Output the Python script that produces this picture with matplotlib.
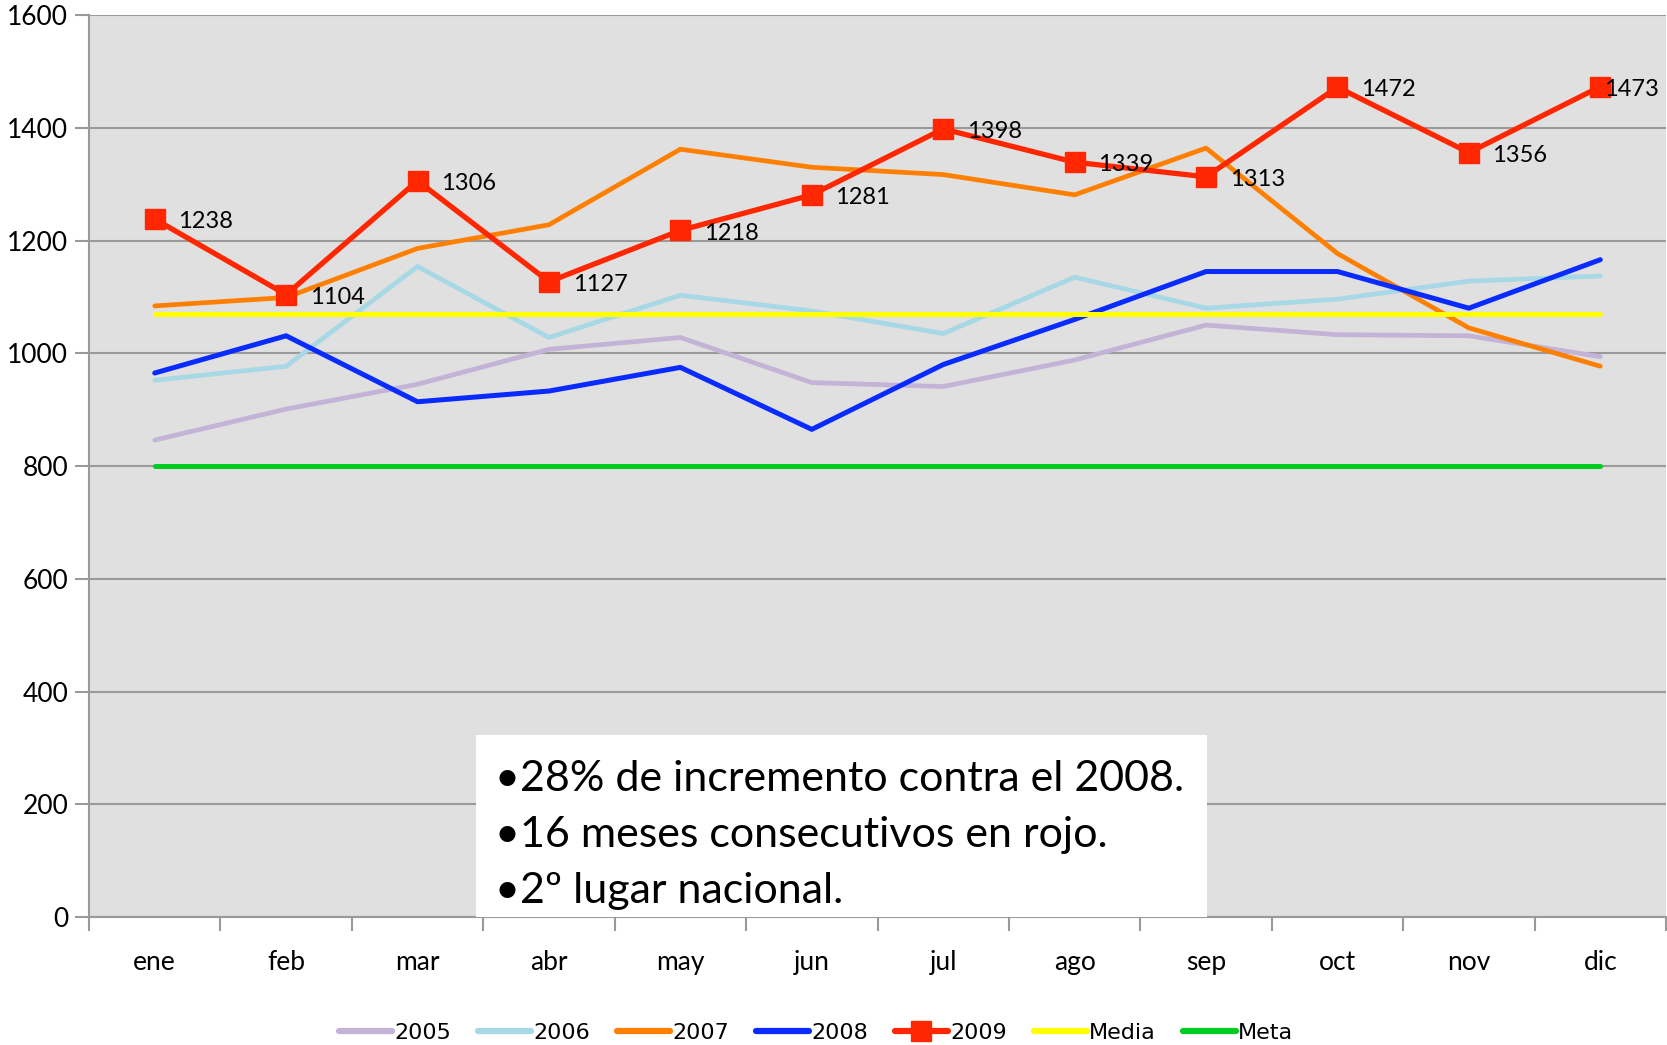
import matplotlib
matplotlib.use("Agg")
import matplotlib.pyplot as plt
from matplotlib.patches import Rectangle

months = ["ene", "feb", "mar", "abr", "may", "jun", "jul", "ago", "sep", "oct", "nov", "dic"]
s2005 = [846, 901, 945, 1007, 1028, 948, 941, 988, 1050, 1033, 1031, 994]
s2006 = [952, 977, 1154, 1028, 1103, 1075, 1035, 1135, 1080, 1096, 1128, 1137]
s2007 = [1084, 1099, 1186, 1228, 1362, 1330, 1317, 1281, 1364, 1177, 1045, 977]
s2008 = [965, 1031, 914, 933, 975, 865, 980, 1060, 1145, 1145, 1080, 1166]
s2009 = [1238, 1104, 1306, 1127, 1218, 1281, 1398, 1339, 1313, 1472, 1356, 1473]
media = [1069] * 12
meta = [800] * 12
yticks = [0, 200, 400, 600, 800, 1000, 1200, 1400, 1600]
notes = ["•28% de incremento contra el 2008.",
         "•16 meses consecutivos en rojo.",
         "•2º lugar nacional."]

FONT = ["Lato", "DejaVu Sans"]
plt.rcParams['font.family'] = FONT

fig = plt.figure(figsize=(16.67, 10.45), dpi=100)
ax = fig.add_axes([0.0534, 0.1225, 0.9460, 0.8631])
ax.set_facecolor("#E0E0E0")

x = list(range(12))
series = [
    ("2005", s2005, "#C3B3D6", 3.4, None),
    ("2006", s2006, "#A7D8E6", 3.4, None),
    ("2007", s2007, "#FF7F00", 3.4, None),
    ("2008", s2008, "#0A2BFF", 3.6, None),
    ("2009", s2009, "#FF2600", 3.8, "s"),
    ("Media", media, "#FFFF00", 3.6, None),
    ("Meta", meta, "#00CC22", 3.6, None),
]
handles = []
for name, vals, col, lw, mk in series:
    if mk:
        h, = ax.plot(x, vals, color=col, lw=lw, marker=mk, markersize=14,
                     solid_capstyle="round", zorder=4, label=name)
    else:
        h, = ax.plot(x, vals, color=col, lw=lw, solid_capstyle="round",
                     zorder=3, label=name)
    handles.append(h)

for xi, v in zip(x, s2009):
    off = 17 if xi < 11 else 3
    ax.annotate(str(v), (xi, v), xytext=(off, -2), textcoords="offset points",
                ha="left", va="center", fontsize=17, color="black", zorder=5)

ax.set_xlim(-0.5, 11.5)
ax.set_ylim(0, 1600)
ax.set_yticks(yticks)
ax.set_yticklabels([str(t) for t in yticks], fontsize=19)
ax.yaxis.grid(True, color="#9A9A9A", lw=1.5)
ax.set_axisbelow(True)
ax.tick_params(axis="y", length=10, width=1.5, color="#9A9A9A", pad=5)

ax.set_xticks([i - 0.5 for i in range(13)])
ax.set_xticklabels([])
ax.set_xticks(x, minor=True)
ax.set_xticklabels(months, minor=True, fontsize=19)
ax.tick_params(axis="x", which="major", length=10, width=1.5, color="#9A9A9A", direction="out")
ax.tick_params(axis="x", which="minor", length=0, pad=24)

for sp in ["top", "right"]:
    ax.spines[sp].set_visible(False)
for sp in ["left", "bottom"]:
    ax.spines[sp].set_color("#9A9A9A")
    ax.spines[sp].set_linewidth(1.5)

# text box
W, H = 1667, 1045
rect = Rectangle((476 / W, 1 - 917 / H), (1207 - 476) / W, (917 - 735) / H,
                 transform=fig.transFigure, facecolor="white", edgecolor="none", zorder=10)
fig.patches.append(rect)
for i, line in enumerate(notes):
    fig.text(495 / W, 1 - (779 + i * 56) / H, line, fontsize=31, va="center",
             ha="left", zorder=11)

leg = fig.legend(handles=handles, loc="center", bbox_to_anchor=(0.4895, 1 - 1033 / H),
                 ncol=7, frameon=False, handlelength=2.4,
                 handletextpad=0.1, columnspacing=1.2,
                 prop={"family": ["Liberation Sans Narrow", "DejaVu Sans"], "size": 16})
for lh in leg.get_lines():
    lh.set_linewidth(4.5)

fig.savefig("out.png", dpi=100, facecolor="white")
